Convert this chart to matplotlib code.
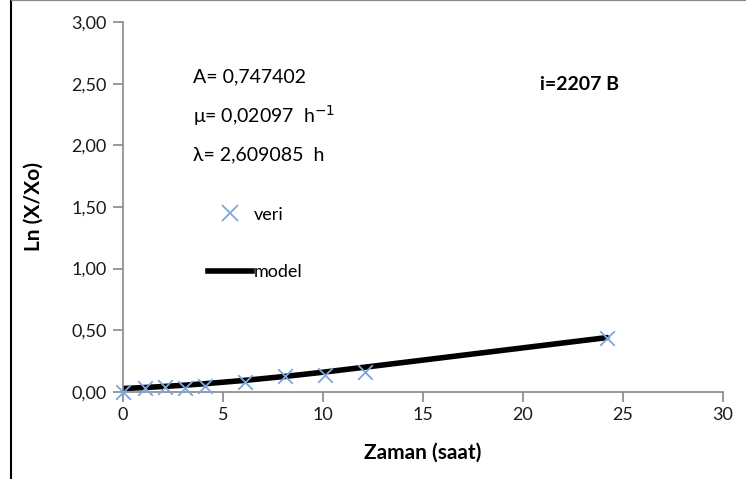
import matplotlib
matplotlib.use('Agg')
import matplotlib.pyplot as plt
from matplotlib.lines import Line2D
from matplotlib.patches import Rectangle
from matplotlib.ticker import FuncFormatter

plt.rcParams['font.family'] = ['Lato', 'DejaVu Sans']

# measured points (Zaman, Ln(X/Xo))
zaman = [0, 1.1, 2.1, 3.1, 4.1, 6.1, 8.1, 10.1, 12.1, 24.2]
veri = [0.00, 0.03, 0.04, 0.03, 0.05, 0.08, 0.13, 0.14, 0.16, 0.44]
# model curve read at the same times
model = [0.027, 0.035, 0.044, 0.054, 0.066, 0.093, 0.125, 0.161, 0.200, 0.44]

fig = plt.figure(figsize=(7.46, 4.79), dpi=100)
ax = fig.add_axes([0.165, 0.182, 0.804, 0.772])

ax.plot(zaman, model, color='black', lw=4, solid_capstyle='round', zorder=2)
ax.scatter(zaman, veri, marker='x', s=110, color='#7ea6d8', linewidths=1.3, zorder=3,
           clip_on=False)

ax.set_xlim(0, 30)
ax.set_ylim(0, 3)
ax.set_xticks(range(0, 31, 5))
ax.set_yticks([i * 0.5 for i in range(7)])
ax.yaxis.set_major_formatter(FuncFormatter(lambda v, p: f'{v:.2f}'.replace('.', ',')))
for s in ['top', 'right']:
    ax.spines[s].set_visible(False)
for s in ['left', 'bottom']:
    ax.spines[s].set_color('#888888')
    ax.spines[s].set_linewidth(1.2)
ax.tick_params(axis='both', colors='#888888', labelcolor='#1a1a1a', labelsize=13,
               length=7, width=1.2)
ax.tick_params(axis='x', pad=4)
ax.tick_params(axis='y', pad=5)

ax.set_xlabel('Zaman (saat)', fontsize=15, fontweight='bold', labelpad=14)
ax.set_ylabel('Ln (X/Xo)', fontsize=15, fontweight='bold', labelpad=20)

fig.text(193 / 746, 1 - 77 / 479, 'A= 0,747402', fontsize=14, va='center')
fig.text(193 / 746, 1 - 116 / 479, r'μ= 0,02097  h$^{-1}$', fontsize=14, va='center')
fig.text(193 / 746, 1 - 155 / 479, 'λ= 2,609085  h', fontsize=14, va='center')
fig.text(540 / 746, 1 - 85 / 479, 'i=2207 B', fontsize=14, fontweight='bold', va='center')

# legend
handles = [Line2D([], [], ls='none', marker='x', ms=11, mew=1.3, color='#7ea6d8'),
           Line2D([], [], color='black', lw=4)]
ax.legend(handles, ['veri', 'model'], frameon=False, fontsize=13,
          loc='upper left', bbox_to_anchor=(0.115, 0.545), handlelength=2.4,
          handletextpad=0.1, labelspacing=2.3)

# outer border
fig.patches.append(Rectangle((11 / 746, -0.05), 1.2, 1.05 - 0.001, transform=fig.transFigure,
                             fill=False, edgecolor='black', lw=1.5))
fig.patches.append(Rectangle((11 / 746, 0.998), 1.2, 0.01, transform=fig.transFigure,
                             fill=True, facecolor='#888888', edgecolor='none'))

fig.savefig('out.png', dpi=100)
